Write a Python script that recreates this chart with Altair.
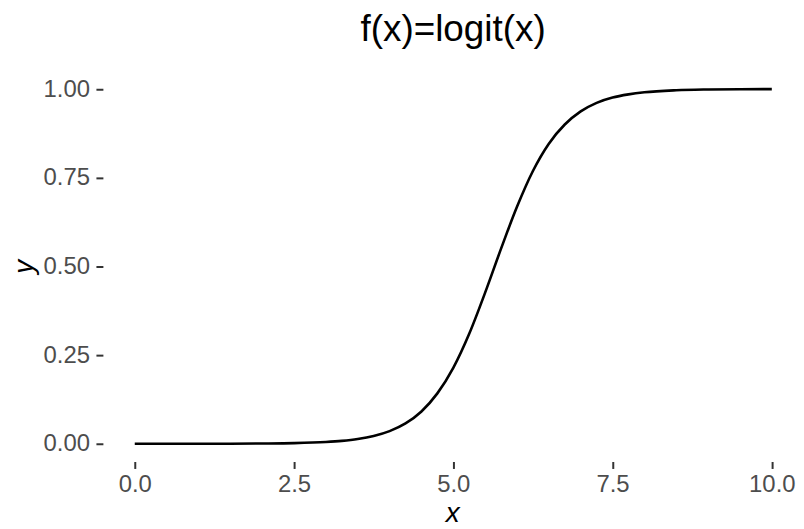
import altair as alt
import pandas as pd

# values
x_vals = [0, 0.5, 1, 1.5, 2, 2.5, 3, 3.25, 3.5, 3.75, 4, 4.25, 4.5, 4.75, 5,
          5.25, 5.5, 5.75, 6, 6.25, 6.5, 6.75, 7, 7.25, 7.5, 7.75, 8, 8.5, 9, 9.5, 10]
y_vals = [0.0000, 0.00003, 0.0001, 0.0002, 0.0007, 0.0018, 0.005, 0.0082, 0.0134,
          0.0219, 0.0356, 0.0573, 0.0911, 0.142, 0.214, 0.310, 0.426, 0.550, 0.668,
          0.769, 0.846, 0.900, 0.937, 0.961, 0.976, 0.985, 0.991, 0.9967, 0.9988,
          0.9996, 0.9998]
x_ticks = [0, 2.5, 5, 7.5, 10]
y_ticks = [0, 0.25, 0.5, 0.75, 1]

df = pd.DataFrame({"x": x_vals, "y": y_vals})

FONT = "Liberation Sans"

chart = alt.Chart(df).mark_line(
    color="black", strokeWidth=2.6, interpolate="monotone"
).encode(
    x=alt.X("x:Q", scale=alt.Scale(domain=[-0.5, 10.2], nice=False, zero=False),
            axis=alt.Axis(values=x_ticks, format=".1f", title="x",
                          titleFontStyle="italic", titleX=350.7, titleY=60,
                          titleBaseline="alphabetic", labelPadding=4)),
    y=alt.Y("y:Q", scale=alt.Scale(domain=[-0.05, 1.05], nice=False, zero=False),
            axis=alt.Axis(values=y_ticks, format=".2f", title="y",
                          titleFontStyle="italic", titleX=-70.8,
                          titleBaseline="alphabetic", labelPadding=6.5)),
).properties(
    width=684.5,
    height=391.8,
    title=alt.Title("f(x)=logit(x)", fontSize=37, font=FONT, fontWeight="normal",
                    color="black", anchor="middle", baseline="alphabetic",
                    offset=30.5, dx=9.4, dy=37.5),
    autosize=alt.AutoSizeParams(type="none"),
    padding={"left": 95.3, "top": 62.5, "right": 11.5, "bottom": 66},
).configure_view(
    stroke=None
).configure_axis(
    domain=False, grid=False, tickColor="#333333", tickSize=7, tickWidth=2,
    labelColor="#4D4D4D", labelFontSize=24, labelFont=FONT,
    titleFont=FONT, titleFontSize=28, titleColor="black", titleFontWeight="normal",
)

chart.save("out.html", embed_options={"renderer": "svg", "actions": False})
